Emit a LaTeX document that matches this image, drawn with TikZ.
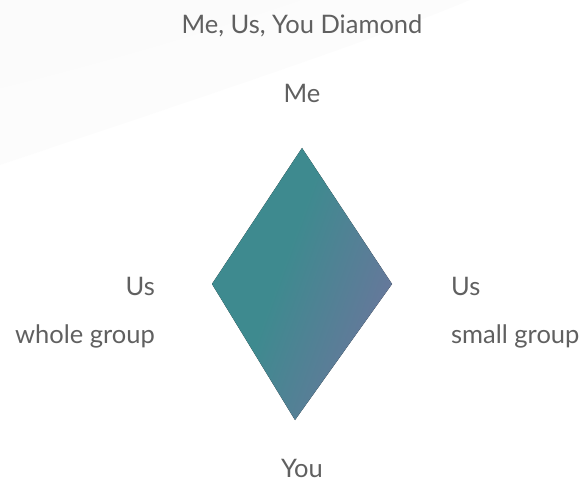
\documentclass[tikz,border=0pt]{standalone}
\usepackage{fontspec}
\setmainfont{Lato}
\usepackage{tikz}
\usetikzlibrary{
    positioning,
    calc
}
\usepackage{xcolor}
\definecolor{labelgray}{HTML}{606060}
\definecolor{diamondteal}{HTML}{3E8A8F}
\definecolor{diamondslate}{HTML}{6A769C}
\definecolor{swoosh}{HTML}{F5F5F5}
\pgfdeclarehorizontalshading{diamondshade}{100bp}{%
    color(0bp)=(diamondteal); color(44bp)=(diamondteal);
    color(74bp)=(diamondslate); color(100bp)=(diamondslate)}

\begin{document}
\begin{tikzpicture}[
    x=1pt, y=1pt,
    label/.style={font=\fontsize{25.5}{30}\selectfont, text=labelgray, inner sep=0pt},
    diamondfill/.style={shading=diamondshade, shading angle=-20}
]

% Canvas and faint background swooshes
\useasboundingbox (0,0) rectangle (584,488);
\fill[swoosh!25] (0,323) .. controls (200,390) and (380,450) .. (470,488) -- (0,488) -- cycle;
\fill[swoosh!40] (0,400) .. controls (120,430) and (220,460) .. (300,488) -- (0,488) -- cycle;

% Diamond corners
\coordinate (me-tip) at (302,340);
\coordinate (us-left) at (212,204);
\coordinate (us-right) at (392,204);
\coordinate (you-tip) at (295,68);

\fill[diamondfill] (me-tip) -- (us-right) -- (you-tip) -- (us-left) -- cycle;

% Labels
\node[label, anchor=base] (title) at (302,454) {Me, Us, You Diamond};
\node[label, anchor=base] (me) at (302,385) {Me};
\node[label, anchor=base east] (us-whole) at (155,193) {Us};
\node[label, anchor=base east] (whole) at (155,145) {whole group};
\node[label, anchor=base west] (us-small) at (451,193) {Us};
\node[label, anchor=base west] (small) at (451,145) {small group};
\node[label, anchor=base] (you) at (302,11) {You};

\end{tikzpicture}
\end{document}
